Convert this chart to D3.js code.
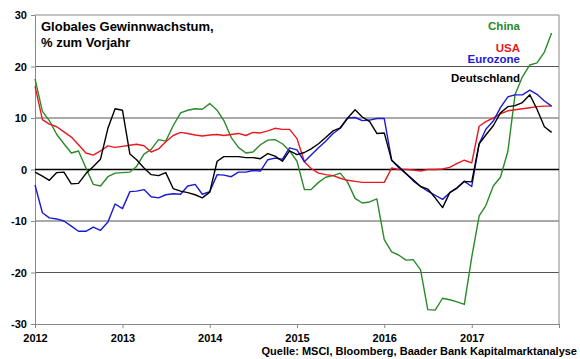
<!DOCTYPE html>
<html>
<head>
<meta charset="utf-8">
<script src="https://cdn.jsdelivr.net/npm/d3@7"></script>
<style>
  html, body { margin: 0; padding: 0; background: #fff; }
  svg text { font-family: "Liberation Sans", Arial, sans-serif; font-weight: bold; }
</style>
</head>
<body>
<svg id="chart" width="580" height="359"></svg>
<script>
// Monthly data, Jan 2012 .. Dec 2017
const startYear = 2012;
const yearTicks = [2012, 2013, 2014, 2015, 2016, 2017];
const yTicks = [-30, -20, -10, 0, 10, 20, 30];

const china = [17.6, 11.3, 9.5, 6.8, 5.0, 3.2, 3.6, 0.3, -2.9, -3.2, -1.4, -0.7,
  -0.6, -0.5, 0.6, 3.0, 3.9, 5.8, 5.5, 8.5, 11.0, 11.5, 11.8, 11.7,
  12.8, 11.5, 9.5, 6.2, 4.3, 3.2, 3.4, 4.8, 5.7, 5.8, 5.0, 3.6,
  1.6, -3.9, -3.9, -2.5, -1.5, -1.2, -0.7, -2.5, -5.6, -6.5, -6.3, -5.7,
  -13.6, -16.0, -16.6, -17.6, -17.5, -19.5, -27.2, -27.3, -25.0, -25.3, -25.7, -26.2,
  -17.0, -9.0, -7.0, -3.2, -1.5, 3.5, 14.5, 18.0, 20.3, 20.7, 22.8, 26.5];

const usa = [16.2, 9.7, 8.8, 8.3, 7.3, 6.3, 4.8, 3.2, 2.8, 3.6, 4.6, 4.3,
  4.5, 4.7, 4.9, 4.6, 3.4, 4.0, 5.4, 6.6, 7.2, 7.0, 6.7, 6.5,
  6.7, 6.8, 6.6, 6.8, 7.0, 6.6, 7.2, 7.1, 7.5, 8.0, 7.8, 7.8,
  6.0, 1.5, 0.2, -0.7, -1.0, -1.2, -1.7, -2.1, -2.3, -2.5, -2.5, -2.5,
  -2.5, 0.3, 0.0, 0.0, -0.1, -0.3, 0.0, 0.0, 0.1, 0.4, 1.2, 1.8,
  1.3, 8.4, 9.3, 10.0, 10.8, 11.4, 11.6, 11.8, 12.0, 12.2, 12.3, 12.3];

const eurozone = [-3.0, -8.4, -9.4, -9.6, -10.0, -11.0, -12.0, -12.0, -11.2, -11.8, -10.2, -6.7,
  -7.6, -4.3, -4.2, -3.9, -5.3, -5.5, -4.9, -4.7, -4.8, -3.2, -2.9, -4.8,
  -4.3, -1.0, -1.1, -1.4, -0.5, -0.5, -0.2, -0.3, 1.9, 2.2, 2.0, 4.2,
  3.8, 1.5, 2.8, 4.2, 5.5, 7.0, 8.0, 10.0, 10.1, 9.5, 9.6, 9.9,
  9.9, 1.8, 0.4, -0.8, -2.2, -3.3, -4.2, -5.0, -5.8, -4.5, -3.5, -2.3,
  -3.3, 5.0, 7.8, 9.4, 12.0, 14.1, 14.5, 14.5, 15.4, 14.6, 13.3, 12.3];

const deutschland = [-0.5, -1.3, -2.1, -0.6, -0.5, -2.8, -2.7, -0.8, 0.6, 2.0, 8.0, 11.8,
  11.5, 3.0, 1.9, 0.3, -1.0, -1.2, -0.6, -3.7, -4.2, -4.5, -4.9, -5.5,
  -4.4, 1.6, 2.5, 2.5, 2.5, 2.3, 2.3, 2.1, 3.1, 2.6, 1.6, 3.6,
  2.9, 3.3, 4.0, 5.0, 6.2, 7.5, 8.1, 10.0, 11.6, 10.2, 9.3, 7.0,
  7.1, 1.8, 0.6, -0.8, -2.0, -3.3, -3.8, -5.5, -7.4, -4.5, -3.6, -2.3,
  -2.4, 5.0, 6.7, 8.5, 11.0, 12.2, 12.4, 13.0, 14.5, 11.7, 8.3, 7.2];

const seriesNames = ["China", "USA", "Eurozone", "Deutschland"];
const seriesColors = ["#2a8a2a", "#e8191e", "#1a1ad2", "#000000"];
const seriesData = [china, usa, eurozone, deutschland];

const titleLines = ["Globales Gewinnwachstum,", "% zum Vorjahr"];
const sourceText = "Quelle: MSCI, Bloomberg, Baader Bank Kapitalmarktanalyse";

const svg = d3.select("#chart");
const mLeft = 35, mRight = 559, mTop = 15, mBottom = 324;

const x = d3.scaleTime()
  .domain([new Date(startYear, 0, 1), new Date(2018, 0, 1)])
  .range([mLeft, mRight]);
const y = d3.scaleLinear().domain([-30, 30]).range([mBottom, mTop]);

// gridlines
svg.append("g").selectAll("line")
  .data(yTicks.filter(v => v !== 0 && v !== -30))
  .join("line")
  .attr("x1", mLeft).attr("x2", mRight)
  .attr("y1", d => y(d)).attr("y2", d => y(d))
  .attr("stroke", d => d === 30 ? "#888" : "#555")
  .attr("stroke-width", 1);

// right border
svg.append("line")
  .attr("x1", mRight).attr("x2", mRight).attr("y1", mTop).attr("y2", mBottom)
  .attr("stroke", "#888");

// axes
const yAxis = d3.axisLeft(y).tickValues(yTicks).tickFormat(d => String(d))
  .tickSize(4).tickPadding(4);
const gy = svg.append("g").attr("transform", `translate(${mLeft},0)`).call(yAxis);
gy.select(".domain").attr("stroke", "#888");
gy.selectAll(".tick line").attr("stroke", "#888");
gy.selectAll(".tick text").attr("font-size", "11px").attr("fill", "#000")
  .style("font-family", "'Liberation Sans', Arial, sans-serif").style("font-weight", "bold");

const xAxis = d3.axisBottom(x)
  .tickValues(yearTicks.concat([2018]).map(yr => new Date(yr, 0, 1)))
  .tickFormat(d => d.getFullYear() < 2018 ? d3.timeFormat("%Y")(d) : "")
  .tickSize(4).tickPadding(6);
const gx = svg.append("g").attr("transform", `translate(0,${mBottom})`).call(xAxis);
gx.select(".domain").attr("stroke", "#888");
gx.selectAll(".tick line").attr("stroke", "#888");
gx.selectAll(".tick text").attr("font-size", "11px").attr("fill", "#000")
  .style("font-family", "'Liberation Sans', Arial, sans-serif").style("font-weight", "bold");

// zero line
svg.append("line")
  .attr("x1", mLeft).attr("x2", mRight).attr("y1", y(0)).attr("y2", y(0))
  .attr("stroke", "#000").attr("stroke-width", 1.5);

// series lines
const line = d3.line()
  .x((d, i) => x(new Date(startYear, i, 1)))
  .y(d => y(d));

svg.append("g").selectAll("path")
  .data(seriesData)
  .join("path")
  .attr("d", d => line(d))
  .attr("fill", "none")
  .attr("stroke", (d, i) => seriesColors[i])
  .attr("stroke-width", 1.4)
  .attr("stroke-linejoin", "round");

// title
svg.append("g").selectAll("text")
  .data(titleLines)
  .join("text")
  .attr("x", 41).attr("y", (d, i) => 31 + i * 16)
  .attr("font-size", "13px").attr("fill", "#000")
  .text(d => d);

// legend labels
const legendY = [29.5, 51.5, 63, 82];
svg.append("g").selectAll("text")
  .data(seriesNames)
  .join("text")
  .attr("x", 520).attr("y", (d, i) => legendY[i])
  .attr("text-anchor", "end")
  .attr("font-size", "11.5px")
  .attr("fill", (d, i) => seriesColors[i])
  .text(d => d);

// source
svg.append("text")
  .attr("x", 577).attr("y", 355)
  .attr("text-anchor", "end")
  .attr("font-size", "11px").attr("fill", "#000")
  .text(sourceText);
</script>
</body>
</html>
